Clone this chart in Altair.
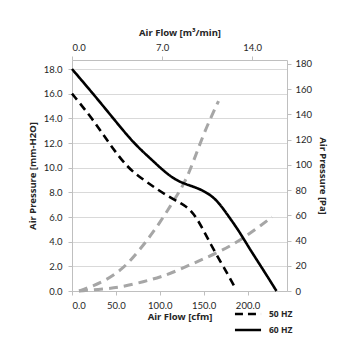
import altair as alt
import pandas as pd

# 60 Hz fan curve (cfm, mm-H2O)
cfm_60 = [0, 24, 47, 70, 90, 105, 118, 130, 145, 158, 168, 178, 190, 203, 219, 233]
mm_60 = [18.0, 16.0, 14.0, 12.0, 10.7, 9.7, 9.0, 8.65, 8.3, 7.8, 7.1, 6.1, 4.9, 3.35, 1.6, 0.0]

# 50 Hz fan curve
cfm_50 = [0, 23, 42, 63, 80, 95, 110, 125, 135, 143, 150, 158, 169, 178, 186]
mm_50 = [16.0, 14.0, 12.0, 10.0, 9.1, 8.35, 7.65, 7.1, 6.6, 5.8, 4.9, 3.8, 2.4, 1.3, 0.25]

# system impedance curves (grey)
cfm_sys_a = [8, 20, 36, 57, 74, 87.5, 101, 112, 124, 135, 150, 167]
mm_sys_a = [0.0, 0.3, 0.77, 1.72, 3.07, 4.29, 5.63, 6.9, 8.2, 9.8, 12.8, 15.4]
cfm_sys_b = [8, 36, 57, 82, 101, 120, 143, 169, 196, 228]
mm_sys_b = [0.0, 0.16, 0.32, 0.77, 1.13, 1.65, 2.39, 3.2, 4.29, 6.0]

left_ticks = [0, 2, 4, 6, 8, 10, 12, 14, 16, 18]
right_ticks = [0, 20, 40, 60, 80, 100, 120, 140, 160, 180]
bottom_ticks = [0, 50, 100, 150, 200]
top_ticks = [0, 7, 14]

series = ["50 HZ", "60 HZ"]

df_fan = pd.DataFrame({
    "cfm": cfm_50 + cfm_60,
    "mm": mm_50 + mm_60,
    "freq": [series[0]] * len(cfm_50) + [series[1]] * len(cfm_60),
})
df_sys = pd.DataFrame({
    "cfm": cfm_sys_a + cfm_sys_b,
    "mm": mm_sys_a + mm_sys_b,
    "curve": ["A"] * len(cfm_sys_a) + ["B"] * len(cfm_sys_b),
})
df_ax = pd.DataFrame({"m3": [0.0], "pa": [0.0]})

X_DOM = [0, 245]
Y_DOM = [0, 18.73]
FONT = "Lato"
TFONT = "Noto Sans"
TXT = "#262626"
AX = "#bfbfbf"

common_axis = dict(
    labelFont=FONT, labelFontSize=9.5, labelColor=TXT,
    titleFont=TFONT, titleFontSize=9.5, titleFontWeight="bold", titleColor=TXT,
    domainColor=AX, tickColor=AX, tickSize=4,
)

xs = alt.Scale(domain=X_DOM, nice=False, zero=False)
ys = alt.Scale(domain=Y_DOM, nice=False, zero=False)

grey = alt.Chart(df_sys).mark_line(
    strokeWidth=3, color="#a6a6a6", strokeDash=[9, 6], interpolate="basis"
).encode(
    x=alt.X("cfm:Q", scale=xs, axis=None),
    y=alt.Y("mm:Q", scale=ys, axis=None),
    detail="curve:N",
)

fan = alt.Chart(df_fan).mark_line(strokeWidth=2.6, color="#000000", interpolate="basis").encode(
    x=alt.X("cfm:Q", scale=xs, axis=alt.Axis(
        title="Air Flow [cfm]", values=bottom_ticks, format=".1f", orient="bottom",
        grid=False, labelPadding=5, titlePadding=2, **common_axis)),
    y=alt.Y("mm:Q", scale=ys, axis=alt.Axis(
        title="Air Pressure [mm-H2O]", values=left_ticks, format=".1f", orient="left",
        grid=True, gridColor="#d9d9d9", gridWidth=1, labelPadding=6, titlePadding=6,
        **common_axis)),
    strokeDash=alt.StrokeDash("freq:N", scale=alt.Scale(domain=series, range=[[8, 5], [1, 0]]),
                              legend=alt.Legend(
                                  title=None, orient="none", legendX=168, legendY=246,
                                  symbolType="M-2,0H2", symbolSize=170, symbolStrokeWidth=2.6,
                                  symbolStrokeColor="#000000",
                                  labelFont=TFONT, labelFontSize=8.5, labelFontWeight="bold",
                                  labelColor=TXT, labelOffset=13, rowPadding=2)),
)

axes = alt.Chart(df_ax).mark_point(opacity=0).encode(
    x=alt.X("m3:Q", scale=alt.Scale(domain=[0, 16.7], nice=False, zero=False), axis=alt.Axis(
        title="Air Flow [m³/min]", values=top_ticks, format=".1f", orient="top",
        grid=False, labelPadding=4, titlePadding=5, **common_axis)),
    y=alt.Y("pa:Q", scale=alt.Scale(domain=[0, 183], nice=False, zero=False), axis=alt.Axis(
        title="Air Pressure [Pa]", values=right_ticks, format="d", orient="right",
        grid=False, labelPadding=4, titlePadding=6, **common_axis)),
)

chart = alt.layer(grey, fan, axes).resolve_scale(
    x="independent", y="independent"
).properties(
    width=215, height=231,
    autosize=alt.AutoSizeParams(type="none"),
    padding={"left": 64, "top": 52, "right": 60, "bottom": 56},
    background="white",
).configure_view(stroke=None)

chart.save("out.html", embed_options={"renderer": "svg", "actions": False})
